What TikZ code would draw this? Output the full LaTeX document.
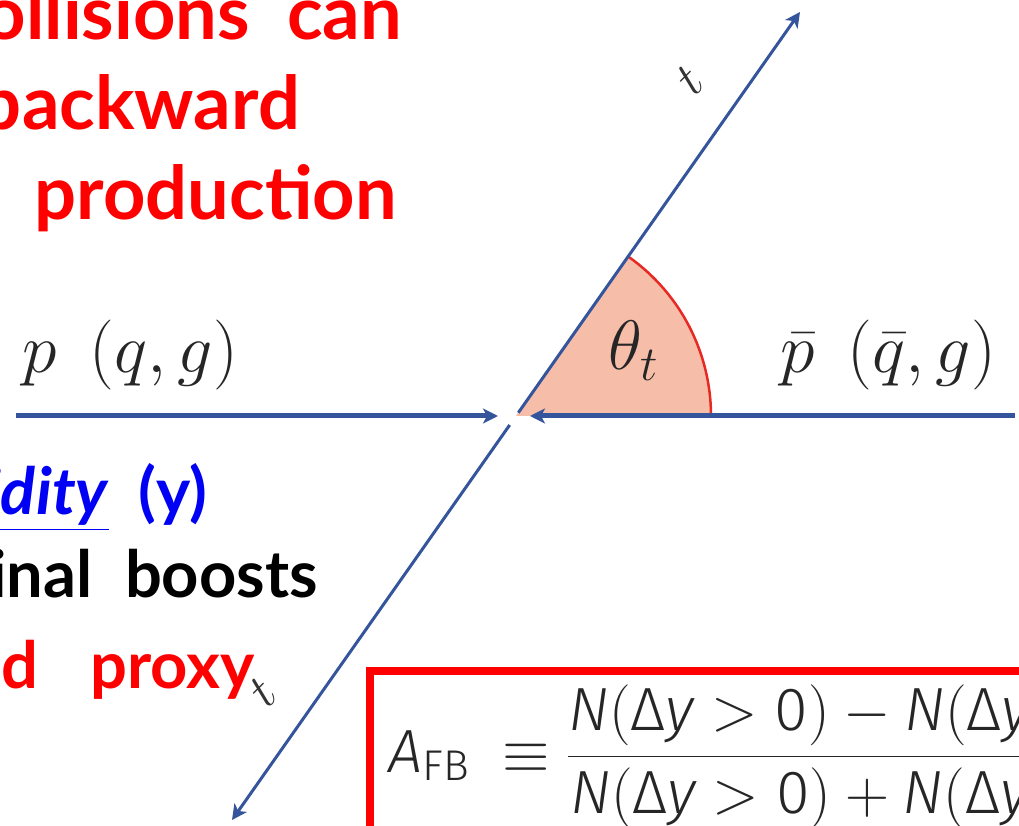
\RequirePackage{fix-cm}
\documentclass[tikz,border=0pt]{standalone}
\usepackage{amsmath}
\usepackage{fontspec}
\usetikzlibrary{arrows.meta,calc}
\newfontfamily\slidefont{Lato}
\newfontfamily\formfont{Fira Sans Light}
\definecolor{lineblue}{RGB}{52,84,155}
\definecolor{wedgefill}{RGB}{246,189,168}
\definecolor{arcred}{RGB}{232,40,35}
\definecolor{linkblue}{RGB}{0,0,245}
\newcommand{\sfi}[1]{\text{\formfont\itshape #1}}
\newcommand{\sfu}[1]{\text{\formfont #1}}
\newcommand{\nterm}[1]{\sfi{N}(\sfu{Δ}\sfi{y}#1\sfu{0})}
\newcommand{\fbsub}{\text{\raisebox{-8pt}{\formfont\fontsize{43}{43}\selectfont FB}}}
\newcommand{\wsp}[1]{\hspace{#1em}}

\begin{document}
\begin{tikzpicture}[
  x=1pt, y=1pt,
  slide/.style={anchor=base east, inner sep=0pt, text=red,
    font=\slidefont\bfseries\fontsize{74}{80}\selectfont},
  slidesmall/.style={slide, font=\slidefont\bfseries\fontsize{65}{70}\selectfont},
  lbl/.style={anchor=base west, inner sep=0pt, text=black!85, font=\fontsize{70}{76}\selectfont},
  tlbl/.style={inner sep=0pt, rotate=45, text=black!80, font=\fontsize{50}{54}\selectfont},
  formula/.style={anchor=base west, inner sep=0pt, text=black!85, font=\fontsize{61}{66}\selectfont},
  arr/.style={-{Stealth[length=15pt,width=15pt,inset=4pt]}, draw=lineblue, line width=3pt},
  beam/.style={arr, line width=5pt}
]
\useasboundingbox (0,0) rectangle (1019,825);
\clip (0,0) rectangle (1019,825);

% slide text, cut by the left edge
\node[slide] (l1) at (402,785) {collisions\wsp{0.5}can};
\node[slide] (l2) at (300,695) {backward};
\node[slide] (l3) at (397,605) {production};
\node[slidesmall, text=linkblue] (rap) at (207,310) {\underline{\textit{Rapidity}}\wsp{0.45}(y)};
\node[slidesmall, text=black] (lb) at (318,228) {longitudinal\wsp{0.5}boosts};
\node[slidesmall] (gp) at (255,137) {good\wsp{0.8}proxy};

\coordinate (ctr) at (516,409);
\coordinate (beamL) at (16,409);
\coordinate (beamR) at (1015,409);
\coordinate (tipL) at (498,409);
\coordinate (tipR) at (530,409);
\coordinate (topq) at (800,813);
\coordinate (topqbar) at (232,5);

\fill[wedgefill] (ctr) -- ++(0:195) arc[start angle=0, end angle=54.9, radius=195] -- cycle;
\draw[arcred, line width=2.5pt] ($(ctr)+(0:195)$) arc[start angle=0, end angle=54.9, radius=195];

\draw[beam] (beamL) -- (tipL);
\draw[beam] (beamR) -- (tipR);
\draw[arr] ($(ctr)!4pt!(topq)$) -- (topq);
\draw[arr] ($(ctr)!11pt!(topqbar)$) -- (topqbar);

\node[lbl] (pl) at (22,452) {$p\ \,(q,g)$};
\node[lbl] (pr) at (780,452) {$\bar p\ \,(\bar q,g)$};
\node[lbl] (th) at (608,455) {$\theta_t$};
\node[tlbl] (tt) at (690,745) {$t$};
\node[tlbl] (ttb) at (263,133) {$t$};

\draw[red, line width=8pt] (370,154) rectangle (1120,-100);
\node[formula] (afb) at (388,53)
  {$\displaystyle \sfi{A}\fbsub\;\equiv\frac{\nterm{>}-\nterm{<}}{\nterm{>}+\nterm{<}}$};
\end{tikzpicture}
\end{document}
